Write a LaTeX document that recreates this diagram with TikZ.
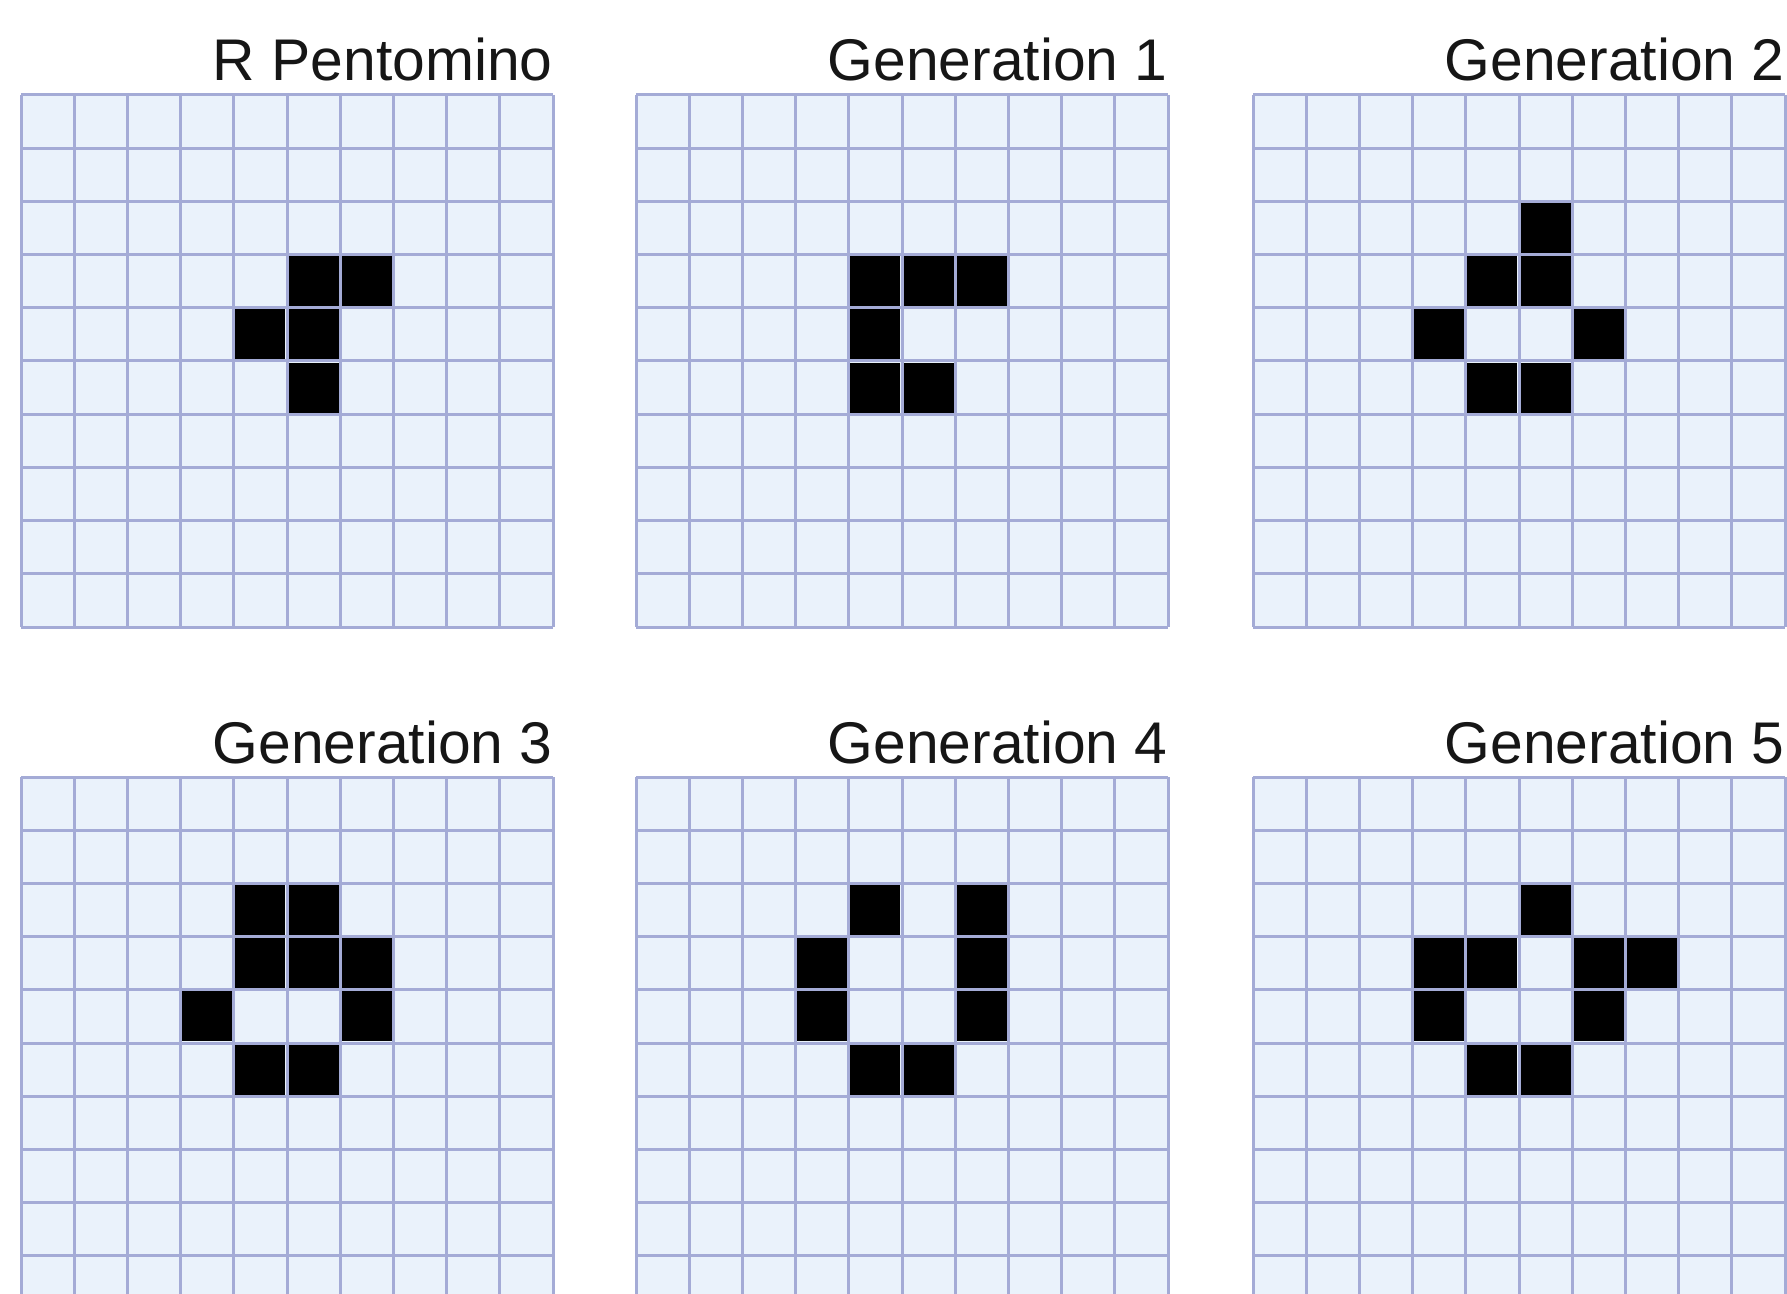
\documentclass[tikz,border=0pt]{standalone}
\usepackage{fontspec}
\setmainfont{Liberation Sans}
\usepackage{xcolor}
\usepackage{tikz}
\usetikzlibrary{positioning}
\definecolor{cellbg}{HTML}{EAF2FB}
\definecolor{gridrulecol}{HTML}{A4ABD6}
\definecolor{labelcol}{HTML}{161616}
\tikzset{
    gridrule/.style={draw=gridrulecol, line width=1.5pt},
    alivecell/.style={fill=black},
    boardlabel/.style={font=\fontsize{29.4}{35}\selectfont, text=labelcol, inner sep=0pt, anchor=base east}
}
% #1 x, #2 y, #3 node name, #4 label, #5 live cells (col/row)
\newcommand{\lifeboard}[5]{%
    \begin{scope}[shift={(#1,#2)}]
        \fill[cellbg] (0,0) rectangle (532,532);
        \foreach \k in {0,...,10} {
            \draw[gridrule] (\k*53.2,0) -- (\k*53.2,532);
            \draw[gridrule] (0,\k*53.2) -- (532,\k*53.2);
        }
        \foreach \c/\r in {#5}
            \fill[alivecell] (\c*53.2+1.6,\r*53.2+1.6) rectangle ++(50,50);
    \end{scope}
    \node[boardlabel] (#3) at (#1+532,#2-14) {#4};
}

\begin{document}
\begin{tikzpicture}[x=0.5pt, y=-0.5pt]
    \useasboundingbox (0,0) rectangle (1787,1294);
    \fill[white] (0,0) rectangle (1787,1294);
    \clip (0,0) rectangle (1787,1294);

    % top row
    \lifeboard{21}{95}{rpent}{R Pentomino}{5/3,6/3,4/4,5/4,5/5}
    \lifeboard{636}{95}{gen1}{Generation 1}{4/3,5/3,6/3,4/4,4/5,5/5}
    \lifeboard{1253}{95}{gen2}{Generation 2}{5/2,4/3,5/3,3/4,6/4,4/5,5/5}
    % bottom row
    \lifeboard{21}{777}{gen3}{Generation 3}{4/2,5/2,4/3,5/3,6/3,3/4,6/4,4/5,5/5}
    \lifeboard{636}{777}{gen4}{Generation 4}{4/2,6/2,3/3,6/3,3/4,6/4,4/5,5/5}
    \lifeboard{1253}{777}{gen5}{Generation 5}{5/2,3/3,4/3,6/3,7/3,3/4,6/4,4/5,5/5}
\end{tikzpicture}
\end{document}
